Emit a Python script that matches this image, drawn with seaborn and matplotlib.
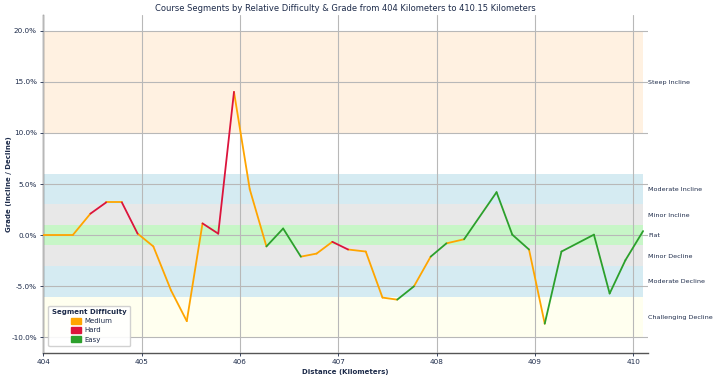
import matplotlib
matplotlib.use("Agg")
import matplotlib.pyplot as plt
import numpy as np
import pandas as pd
import seaborn as sns
from matplotlib.patches import Patch
from matplotlib.ticker import FuncFormatter

# ----- data --------------------------------------------------------------
distance_km = [404.00, 404.30, 404.48, 404.64, 404.80, 404.96, 405.12, 405.30,
               405.46, 405.62, 405.78, 405.94, 406.10, 406.27, 406.44, 406.62,
               406.78, 406.94, 407.10, 407.28, 407.45, 407.60, 407.77, 407.94,
               408.10, 408.28, 408.61, 408.77, 408.94, 409.10, 409.27, 409.60,
               409.76, 409.92, 410.10]
grade_pct = [0.0, 0.0, 2.1, 3.2, 3.2, 0.15, -1.1, -5.4,
             -8.4, 1.15, 0.15, 14.0, 4.5, -1.1, 0.65, -2.1,
             -1.8, -0.65, -1.4, -1.6, -6.1, -6.3, -5.0, -2.1,
             -0.8, -0.4, 4.2, 0.05, -1.4, -8.65, -1.6, 0.05,
             -5.7, -2.45, 0.4]
# difficulty of each segment (point i -> i+1)
segment_difficulty = ["Medium", "Medium", "Hard", "Medium", "Hard", "Medium",
                      "Medium", "Medium", "Medium", "Hard", "Hard", "Medium",
                      "Medium", "Easy", "Easy", "Medium", "Medium", "Hard",
                      "Medium", "Medium", "Medium", "Easy", "Medium", "Easy",
                      "Medium", "Easy", "Easy", "Easy", "Medium", "Easy",
                      "Easy", "Easy", "Easy", "Easy"]

band_names = ["Steep Incline", "Moderate Incline", "Minor Incline", "Flat",
              "Minor Decline", "Moderate Decline", "Challenging Decline"]
band_low = [10, 3, 1, -1, -3, -6, -10]
band_high = [20, 6, 3, 1, -1, -3, -6]
band_colors = ["bisque", "lightblue", "lightgrey", "lightgreen",
               "lightgrey", "lightblue", "lightyellow"]

DIFF_COLORS = {"Medium": "orange", "Hard": "crimson", "Easy": "#2ca02c"}
TEXT = "#1d2b4a"
FS = 5

sns.set_theme(style="whitegrid")
plt.rcParams["font.family"] = ["DejaVu Sans"]

# one row per segment end-point, each segment its own unit
rows = []
for i, diff in enumerate(segment_difficulty):
    for j in (i, i + 1):
        rows.append({"seg": i, "km": distance_km[j], "grade": grade_pct[j],
                     "difficulty": diff})
df = pd.DataFrame(rows)

fig = plt.figure(figsize=(7.2, 3.79), dpi=100)
ax = fig.add_axes([0.06, 0.069, 0.84, 0.891])

for lo, hi, c in zip(band_low, band_high, band_colors):
    ax.fill_between([distance_km[0], distance_km[-1]], lo, hi, color=c,
                    alpha=0.5, lw=0, zorder=0)

sns.lineplot(data=df, x="km", y="grade", hue="difficulty", units="seg",
             estimator=None, palette=DIFF_COLORS, lw=1.3, legend=False,
             sort=False, ax=ax, zorder=3)

ax.set_xlim(404, 410.15)
ax.set_ylim(-11.5, 21.5)
ax.set_xticks(np.arange(404, 411, 1))
ax.set_yticks(np.arange(-10, 21, 5))
ax.yaxis.set_major_formatter(FuncFormatter(lambda v, _: f"{v:.1f}%"))
ax.grid(True, color="#b8b8b8", lw=0.8, zorder=1)
ax.set_axisbelow(False)
for s in ("top", "right"):
    ax.spines[s].set_visible(False)
for s in ("left", "bottom"):
    ax.spines[s].set_color("#555555")
    ax.spines[s].set_linewidth(1.0)
ax.tick_params(axis="both", labelsize=FS + 0.2, colors=TEXT, length=2.5,
               width=0.6, pad=2, left=True, bottom=True)
ax.set_xlabel("Distance (Kilometers)", fontsize=FS, fontweight="bold",
              color=TEXT, labelpad=3)
ax.set_ylabel("Grade (Incline / Decline)", fontsize=FS, fontweight="bold",
              color=TEXT)
ax.yaxis.set_label_coords(-0.052, 0.5)
ax.set_title("Course Segments by Relative Difficulty & Grade from 404 "
             "Kilometers to 410.15 Kilometers", fontsize=6, color=TEXT, pad=3)

# band names on the right
ax2 = ax.twinx()
ax2.set_ylim(ax.get_ylim())
ax2.set_yticks([(lo + hi) / 2 for lo, hi in zip(band_low, band_high)])
ax2.set_yticklabels(band_names)
ax2.tick_params(axis="y", length=0, labelsize=4.6, colors=TEXT, pad=0)
ax2.grid(False)
for s in ax2.spines.values():
    s.set_visible(False)

handles = [Patch(facecolor=DIFF_COLORS[k], edgecolor=DIFF_COLORS[k], label=k)
           for k in ("Medium", "Hard", "Easy")]
leg = ax.legend(handles=handles, title="Segment Difficulty", loc="lower left",
                fontsize=FS, title_fontsize=FS, handlelength=1.1,
                handleheight=1.1, frameon=True, framealpha=0.9,
                borderpad=0.5, labelspacing=0.35, handletextpad=1.4,
                bbox_to_anchor=(0.003, 0.01))
leg.get_title().set_fontweight("bold")
leg.get_title().set_color(TEXT)
for t in leg.get_texts():
    t.set_color(TEXT)
for h in leg.legend_handles:
    h.set_width(7)
    h.set_x(3)
leg.set_zorder(5)

fig.savefig("out.png", dpi=100)
